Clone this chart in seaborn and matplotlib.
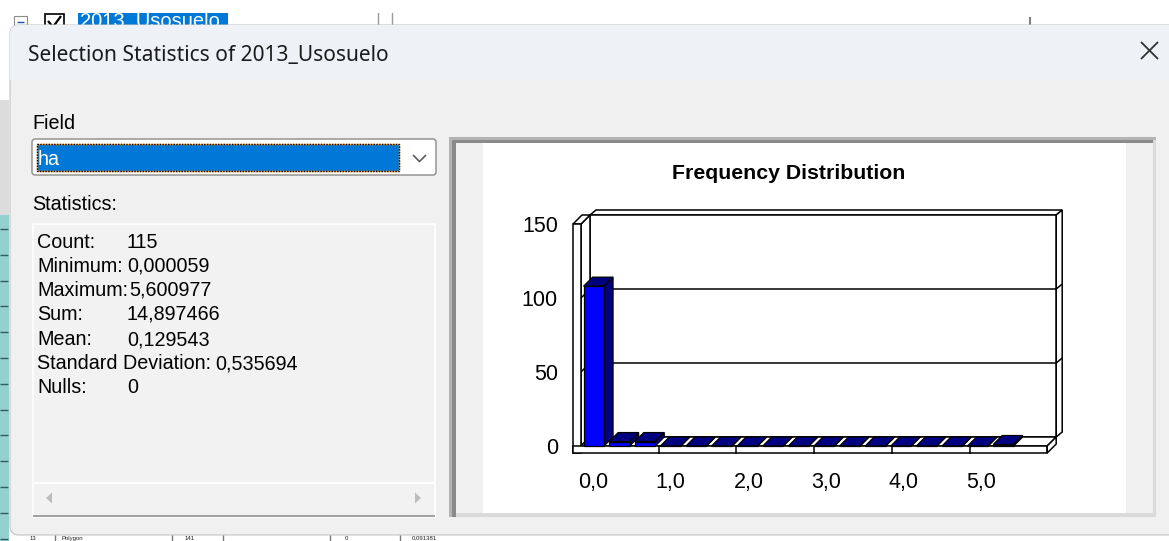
import numpy as np
import matplotlib
matplotlib.use("Agg")
import matplotlib.pyplot as plt
import matplotlib.patches as mpatches
import matplotlib.transforms as mtransforms
import seaborn as sns

# ---------------- data ----------------
data_min = 0.000059
data_max = 5.600977
counts = [108, 3, 3, 0, 0, 0, 0, 0, 0, 0, 0, 0, 0, 0, 0, 0, 1]
y_ticks = [0, 50, 100, 150]
y_tick_labels = ["0", "50", "100", "150"]
x_ticks = [0, 1, 2, 3, 4, 5]
x_tick_labels = ["0,0", "1,0", "2,0", "3,0", "4,0", "5,0"]
stat_labels = ["Count:", "Minimum:", "Maximum:", "Sum:", "Mean:",
               "Standard Deviation:", "Nulls:"]
stat_values = ["115", "0,000059", "5,600977", "14,897466", "0,129543",
               "0,535694", "0"]
window_title = "Selection Statistics of 2013_Usosuelo"
chart_title = "Frequency Distribution"
field_label = "Field"
field_value = "ha"
stats_label = "Statistics:"
layer_name = "2013_Usosuelo"
table_cells = ["13", "Polygon", "141", "0", "0,091381"]

# ---------------- style ----------------
sns.set_style("white")
UI_FONT = ["Liberation Sans", "DejaVu Sans"]
TITLE_FONT = ["Noto Sans", "DejaVu Sans"]
CHART_FONT = ["Liberation Sans", "DejaVu Sans"]
plt.rcParams["font.family"] = CHART_FONT

BLUE = "#0000ff"
NAVY = "#000080"
W, H = 1169, 541
fig = plt.figure(figsize=(W / 100, H / 100), dpi=100)

# background axes in pixel coordinates (window chrome)
bg = fig.add_axes([0, 0, 1, 1])
bg.set_xlim(0, W)
bg.set_ylim(H, 0)
bg.axis("off")


def rect(x0, y0, x1, y1, fc, ec="none", lw=0, z=1, **kw):
    p = mpatches.Rectangle((x0, y0), x1 - x0, y1 - y0, facecolor=fc,
                           edgecolor=ec, linewidth=lw, zorder=z, **kw)
    bg.add_patch(p)
    return p


def line(xs, ys, c, lw, z=2, **kw):
    bg.plot(xs, ys, color=c, linewidth=lw, zorder=z,
            solid_capstyle="butt", **kw)


rect(0, 0, W, H, "white", z=0)
# layer list strip behind the dialog (top)
rect(14, 16, 27, 29, "white", ec="#8c8c8c", lw=0.8, z=2)
line([17, 24], [22, 22], "#2050a0", 1.0, z=2)
rect(45, 14, 64, 32, "white", ec="black", lw=1.2, z=2)
line([48, 53, 61], [21, 27, 16], "black", 1.6, z=2)
rect(78, 12, 228, 32, "#0078d7", z=2)
bg.text(80, 27, layer_name, color="white", fontsize=14.5, va="baseline",
        family=CHART_FONT, zorder=2)
line([378, 378], [10, 25], "#9a9a9a", 1.0, z=2)
line([392, 392], [10, 25], "#9a9a9a", 1.0, z=2)
line([1030, 1030], [17, 25], "#808080", 1.5, z=2)
rect(0, 0, W, 13, "white", z=3)
# attribute table strip at the left and bottom
rect(0, 100, 9, 215, "#dcdcdc", z=2)
rect(0, 215, 9, H, "#93d1d1", z=2)
for yy in np.arange(229, H, 25.8):
    line([0, 8], [yy, yy], "#2f5f5f", 1.0, z=2)
for xx in [55, 172, 223, 330, 400]:
    line([xx, xx], [530, H], "#7a7a7a", 1.0, z=2)
for xx, txt in zip([30, 62, 185, 345, 412], table_cells):
    bg.text(xx, 540.6, txt, fontsize=4.3, va="bottom", color="#202020",
            family=CHART_FONT, zorder=9)

# dialog
dialog = mpatches.FancyBboxPatch((10, 25), 1200, 510,
                                 boxstyle="round,pad=0,rounding_size=9",
                                 facecolor="#f0f0f0", edgecolor="#c4c4c4",
                                 linewidth=0.8, zorder=4)
bg.add_patch(dialog)
tb = rect(10, 25, W + 5, 80, "#eef2f7", z=5)
tb.set_clip_path(dialog)
t_title = bg.text(28, 61, window_title, fontsize=14, va="baseline",
                  color="#1b1b1b", family=TITLE_FONT, zorder=6)
line([1141, 1158], [42, 59], "#303030", 1.3, z=6)
line([1141, 1158], [59, 42], "#303030", 1.3, z=6)

# left column
ui_texts = []
ui_texts.append(bg.text(32, 129, field_label, fontsize=16, va="baseline",
                        color="black", family=UI_FONT, zorder=6))
combo = mpatches.FancyBboxPatch((32, 139), 404, 36,
                                boxstyle="round,pad=0,rounding_size=3",
                                facecolor="white", edgecolor="#8a8a8a",
                                linewidth=1.0, zorder=5)
bg.add_patch(combo)
rect(37, 144, 399, 171, "#0078d7", z=6)
rect(37, 144, 399, 171, "none", ec="#ff9a1a", lw=1.0, z=7)
rect(37, 144, 399, 171, "none", ec="black", lw=1.0, z=7,
     linestyle=(0, (1, 1)))
ui_texts.append(bg.text(38, 165, field_value, fontsize=16, va="baseline",
                        color="white", family=UI_FONT, zorder=8))
line([413, 419.5, 426], [155, 161.5, 155], "#5a5a5a", 1.2, z=6)
ui_texts.append(bg.text(32, 210, stats_label, fontsize=16, va="baseline",
                        color="black", family=UI_FONT, zorder=6))
rect(33, 224, 435, 517, "#f2f2f2", ec="white", lw=1.2, z=5)
line([33, 435], [516, 516], "#a0a0a0", 1.4, z=6)
line([34, 434], [483, 483], "white", 1.4, z=6)
bg.add_patch(mpatches.Polygon([(46, 498), (52, 492.5), (52, 503.5)],
                              closed=True, facecolor="#bdbdbd",
                              edgecolor="none", zorder=6))
bg.add_patch(mpatches.Polygon([(421, 498), (415, 492.5), (415, 503.5)],
                              closed=True, facecolor="#bdbdbd",
                              edgecolor="none", zorder=6))
base_y = [248, 272, 296, 320, 345, 369, 393]
val_x = [127, 127, 124, 127, 127, 215, 127]
stat_lab_texts, stat_val_texts = [], []
for lab, val, yy, vx in zip(stat_labels, stat_values, base_y, val_x):
    stat_lab_texts.append(bg.text(37, yy, lab, fontsize=16, va="baseline",
                                  color="black", family=UI_FONT, zorder=6))
    stat_val_texts.append(bg.text(vx, yy, val, fontsize=16, va="baseline",
                                  color="black", family=UI_FONT, zorder=6))

# chart panel
rect(449, 137, 1156, 517, "#f0f0f0", z=5)
rect(449, 137, 1156, 140, "#b4b4b4", z=6)
rect(449, 137, 452, 517, "#b4b4b4", z=6)
rect(452, 140, 1156, 143, "#8a8a8a", z=6)
rect(452, 140, 456, 517, "#8a8a8a", z=6)
rect(1153, 140, 1156, 517, "#dadada", z=6)
rect(456, 513, 1156, 517, "#dadada", z=6)
rect(483, 143, 1126, 513, "white", z=6)

# ---------------- chart (3-D style histogram) ----------------
X0PX, PXX = 581.0, 77.7     # px of x=0 and px per x unit (front plane)
Y0PX, PXY = 446.0, 1.48     # px of y=0 and px per count (front plane)
AX_L, AX_R, AX_T, AX_B = 566, 1075, 200, 458
ax = fig.add_axes([AX_L / W, (H - AX_B) / H, (AX_R - AX_L) / W,
                   (AX_B - AX_T) / H])
ax.set_facecolor("none")

n_bins = len(counts)
edges = np.linspace(0.0, data_max, n_bins + 1)
centers = (edges[:-1] + edges[1:]) / 2
bw = edges[1] - edges[0]
BAR_FRAC = 0.8

sns.barplot(x=centers, y=counts, native_scale=True, width=BAR_FRAC,
            color=BLUE, saturation=1, edgecolor="black", linewidth=0.9,
            errorbar=None, ax=ax)
bars = list(ax.patches)

ax.set_xlim((AX_L - X0PX) / PXX, (AX_R - X0PX) / PXX)
ax.set_ylim((Y0PX - AX_B) / PXY, (Y0PX - AX_T) / PXY)
ax.set_xlabel("")
ax.set_ylabel("")
for s in ax.spines.values():
    s.set_visible(False)

ddx, ddy = 9.0 / PXX, 9.0 / PXY        # depth offset
tx, ty = 8.0 / PXX, 7.0 / PXY          # wall / floor thickness
bx, by = 6.0 / PXX, 5.0 / PXY          # back wall thickness
XR, YT = 6.0, 150.0
LW = 1.1


def apoly(pts, fc, z, lw=LW):
    ax.add_patch(mpatches.Polygon(pts, closed=True, facecolor=fc,
                                  edgecolor="black", linewidth=lw,
                                  zorder=z, joinstyle="miter"))


def aline(xs, ys, z, lw=LW):
    ax.plot(xs, ys, color="black", linewidth=lw, zorder=z,
            solid_capstyle="butt")


# back wall
apoly([(ddx, YT + ddy), (XR + ddx, YT + ddy), (XR + ddx + bx, YT + ddy + by),
       (ddx + bx, YT + ddy + by)], "white", 2)
apoly([(XR + ddx, ddy), (XR + ddx, YT + ddy), (XR + ddx + bx, YT + ddy + by),
       (XR + ddx + bx, ddy + by)], "white", 2)
apoly([(ddx, ddy), (XR + ddx, ddy), (XR + ddx, YT + ddy), (ddx, YT + ddy)],
      "white", 3)
for v in y_ticks[1:-1]:
    aline([ddx, XR + ddx], [v + ddy, v + ddy], 4)
    aline([XR + ddx, XR + ddx + bx], [v + ddy, v + ddy + by], 4)
# left wall
apoly([(0, 0), (ddx, ddy), (ddx, YT + ddy), (0, YT)], "white", 4)
for v in y_ticks[1:-1]:
    aline([0, ddx], [v, v + ddy], 5)
apoly([(-tx, YT), (0, YT), (ddx, YT + ddy), (-tx + ddx, YT + ddy)], "white", 4)
apoly([(-tx, -ty), (0, -ty), (0, YT), (-tx, YT)], "white", 6)
# floor
apoly([(0, 0), (XR, 0), (XR + ddx, ddy), (ddx, ddy)], "white", 4)
apoly([(-tx, -ty), (XR, -ty), (XR, 0), (-tx, 0)], "white", 6)
apoly([(XR, -ty), (XR, 0), (XR + ddx, ddy), (XR + ddx, ddy - ty)], "white", 6)
for k in x_ticks[1:]:
    aline([k, k], [-ty - 0.5, 0], 7)

# bar depth faces
for i, (c, h) in enumerate(zip(centers, counts)):
    xl = c - BAR_FRAC * bw / 2
    xr = c + BAR_FRAC * bw / 2
    z = 20 + 3 * i
    apoly([(xl, h), (xr, h), (xr + ddx, h + ddy), (xl + ddx, h + ddy)],
          NAVY, z, lw=0.9)
    apoly([(xr, 0), (xr, h), (xr + ddx, h + ddy), (xr + ddx, ddy)],
          NAVY, z, lw=0.9)
    bars[i].set_zorder(z + 1)

# ticks
ax.set_yticks(y_ticks)
ax.set_yticklabels(y_tick_labels)
ax.set_xticks(x_ticks)
ax.set_xticklabels(x_tick_labels)
ax.tick_params(axis="y", length=0, pad=5.8, labelsize=15.5, labelcolor="black")
ax.tick_params(axis="x", length=0, pad=9.8, labelsize=15.5, labelcolor="black")
shift = mtransforms.ScaledTranslation(12 / 100, 0, fig.dpi_scale_trans)
for lbl in ax.get_xticklabels():
    lbl.set_transform(lbl.get_transform() + shift)
ax.grid(False)

ct = ax.set_title(chart_title, x=(789 - AX_L) / (AX_R - AX_L),
                  y=1 + (AX_T - 179) / (AX_B - AX_T), va="baseline",
                  fontsize=15, fontweight="bold", pad=0, color="black")

# ---------------- fit text widths to the reference ----------------
fig.canvas.draw()
rend = fig.canvas.get_renderer()


def fit(t, target):
    w = t.get_window_extent(rend).width
    t.set_fontsize(t.get_fontsize() * target / w)


fit(t_title, 360)
fit(ct, 234)
sd = stat_lab_texts[5]
fit(sd, 174)
for t in stat_lab_texts + stat_val_texts + ui_texts:
    t.set_fontsize(sd.get_fontsize())

# keep "Maximum:" and its value tight, as in the dialog, without overlap
fig.canvas.draw()
inv = bg.transData.inverted()
for lab_t, val_t in zip(stat_lab_texts, stat_val_texts):
    right = inv.transform(lab_t.get_window_extent(rend).get_points())[1, 0]
    x, y = val_t.get_position()
    if right + 1 > x:
        val_t.set_x(right + 1)

fig.savefig("out.png", dpi=100)
